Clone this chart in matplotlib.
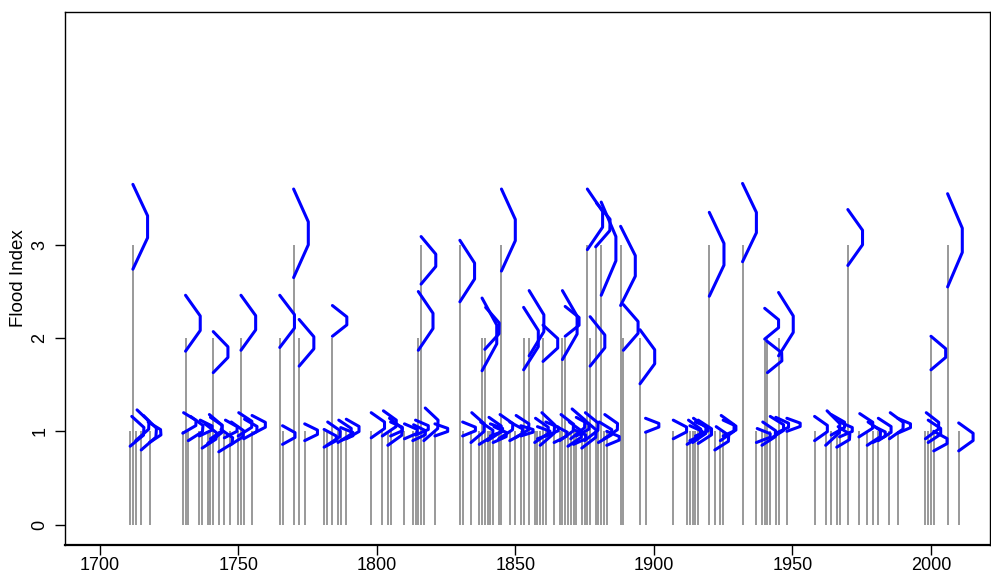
import matplotlib
matplotlib.use('Agg')
import matplotlib.pyplot as plt
import numpy as np

plt.rcParams['font.family'] = ['Liberation Sans Narrow', 'Liberation Sans', 'DejaVu Sans']

#----- flood events (year, flood index)
years = [1711, 1712, 1713, 1715, 1718,
         1730, 1731, 1732, 1736, 1737, 1739, 1740, 1741, 1743, 1745, 1747, 1750, 1751, 1752, 1755,
         1765, 1766, 1770, 1772, 1774,
         1781, 1782, 1784, 1786, 1787, 1789,
         1798, 1802, 1804, 1805, 1810, 1813, 1814, 1815, 1816, 1817, 1821,
         1830, 1831, 1834, 1837, 1838, 1839, 1840, 1841, 1842, 1844, 1845, 1848, 1850, 1852, 1853, 1855,
         1857, 1858, 1859, 1860, 1861, 1864, 1866, 1867, 1868, 1869, 1870, 1871, 1872, 1874, 1875,
         1876, 1877, 1879, 1880, 1881, 1882, 1883, 1888, 1889, 1895, 1897,
         1907, 1912, 1913, 1914, 1915, 1916, 1920, 1922, 1924, 1925, 1932,
         1937, 1939, 1940, 1941, 1942, 1944, 1945, 1948,
         1958, 1962, 1964, 1966, 1967, 1970, 1974, 1977, 1979, 1981, 1985, 1988,
         1998, 1999, 2000, 2001, 2006, 2010]

flood_index = [1, 3, 1, 1, 1,
               1, 2, 1, 1, 1, 1, 1, 2, 1, 1, 1, 1, 2, 1, 1,
               2, 1, 3, 2, 1,
               1, 1, 2, 1, 1, 1,
               1, 1, 1, 1, 1, 1, 1, 2, 3, 1, 1,
               3, 1, 1, 1, 2, 2, 1, 1, 1, 1, 3, 1, 1, 1, 2, 2,
               1, 1, 1, 2, 1, 1, 1, 2, 2, 1, 1, 1, 1, 1, 1,
               3, 2, 3, 1, 3, 1, 1, 3, 2, 2, 1,
               1, 1, 1, 1, 1, 1, 3, 1, 1, 1, 3,
               1, 1, 2, 2, 1, 1, 2, 1,
               1, 1, 1, 1, 1, 3, 1, 1, 1, 1, 1, 1,
               1, 1, 2, 1, 3, 1]

#----- glyph for each event (bottom, top, lean of top point, width in years)
glyph_bot = [0.84, 2.74, 0.90, 0.80, 0.88,
             0.98, 1.86, 0.90, 0.95, 0.82, 0.87, 0.92, 1.63, 0.78, 0.93, 0.85, 0.95, 1.87, 0.92, 0.97,
             1.90, 0.86, 2.65, 1.70, 0.90,
             0.83, 0.85, 2.02, 0.88, 0.90, 0.92,
             0.93, 0.95, 0.85, 0.95, 0.92, 0.90, 0.96, 1.87, 2.58, 0.90, 0.95,
             2.39, 0.95, 0.88, 0.86, 1.65, 1.88, 0.90, 0.95, 0.88, 0.92, 2.72, 0.90, 0.93, 0.95, 1.66, 1.81,
             0.88, 0.92, 0.85, 1.75, 0.95, 0.88, 0.90, 1.77, 2.02, 0.84, 0.92, 0.86, 0.95, 0.82, 0.90,
             2.95, 1.70, 2.98, 0.88, 2.46, 0.92, 0.85, 2.35, 1.87, 1.51, 0.99,
             0.92, 0.86, 0.90, 0.88, 0.95, 0.87, 2.45, 0.80, 0.90, 0.95, 2.82,
             0.88, 0.85, 1.99, 1.63, 0.92, 0.98, 1.81, 1.00,
             0.90, 0.85, 0.96, 0.83, 0.94, 2.78, 0.94, 0.85, 0.88, 0.90, 0.92, 0.98,
             0.92, 0.88, 1.66, 0.79, 2.55, 0.79]

glyph_top = [1.16, 3.65, 1.23, 1.17, 1.10,
             1.20, 2.46, 1.16, 1.12, 1.08, 1.18, 1.15, 2.07, 1.02, 1.12, 1.10, 1.20, 2.46, 1.13, 1.17,
             2.46, 1.06, 3.60, 2.20, 1.08,
             1.02, 1.10, 2.35, 1.12, 1.04, 1.13,
             1.20, 1.22, 1.14, 1.10, 1.08, 1.07, 1.12, 2.50, 3.09, 1.25, 1.08,
             3.05, 1.10, 1.20, 1.10, 2.43, 2.33, 1.15, 1.08, 1.05, 1.18, 3.60, 1.10, 1.17, 1.06, 2.33, 2.51,
             1.14, 1.05, 1.20, 2.14, 1.10, 1.06, 1.18, 2.51, 2.34, 1.10, 1.24, 1.02, 1.15, 1.13, 1.20,
             3.60, 2.23, 3.45, 1.10, 3.46, 1.18, 1.00, 3.20, 2.36, 2.09, 1.14,
             1.12, 1.12, 1.06, 1.14, 1.10, 1.12, 3.35, 1.05, 1.17, 1.12, 3.66,
             1.03, 1.10, 2.32, 1.97, 1.16, 1.15, 2.49, 1.14,
             1.16, 1.22, 1.18, 1.05, 1.10, 3.38, 1.19, 1.10, 1.06, 1.14, 1.20, 1.14,
             1.20, 1.12, 2.02, 1.00, 3.55, 1.09]

glyph_lean = [0.6, 0.0, 0.5, 0.8, -0.5,
              0.3, 0.0, 0.8, 0.3, 1.0, 0.6, 0.0, 0.0, 0.8, 0.4, 0.5, 0.2, 0.0, 0.3, 0.0,
              0.0, 0.0, 0.0, 0.0, 0.0,
              0.0, 0.3, 0.0, 0.3, 0.0, 0.0,
              0.0, 0.4, 0.6, 0.0, 0.0, 0.3, 0.0, 0.0, 0.0, 0.5, 0.0,
              0.0, 0.0, 0.3, 0.5, 0.0, 0.3, 0.5, 0.0, 0.3, 0.5, 0.0, 0.0, 0.3, 0.0, 0.0, 0.0,
              0.3, 0.0, 0.6, 0.0, 0.0, 0.3, 0.5, 0.0, 0.0, 0.5, 0.5, 0.0, 0.0, 0.6, 0.3,
              0.0, 0.0, 0.3, 0.3, 0.0, 0.3, 0.0, 0.0, 0.0, 0.0, 0.0,
              0.0, 0.5, 0.0, 0.3, 0.0, 0.0, 0.0, 0.5, 0.3, 0.0, 0.0,
              0.3, 0.3, 0.0, -0.3, 0.0, 0.0, 0.0, 0.0,
              0.0, 0.5, 0.0, 0.5, 0.0, 0.0, 0.3, 0.3, 0.0, 0.0, 0.3, 0.0,
              0.3, 0.0, 0.0, 0.0, 0.0, 0.0]

glyph_w = [4.6, 5.3, 4.5, 5.0, 4.3,
           4.6, 5.3, 4.8, 4.4, 4.6, 4.8, 4.2, 5.3, 4.5, 4.4, 4.6, 4.8, 5.3, 4.6, 4.8,
           5.3, 4.5, 5.3, 5.3, 4.6,
           4.4, 4.6, 5.2, 4.6, 4.4, 4.6,
           4.8, 4.8, 4.8, 4.2, 4.6, 4.4, 4.6, 5.3, 5.3, 4.8, 4.6,
           5.3, 4.6, 4.6, 4.6, 5.3, 5.0, 4.6, 4.4, 4.6, 4.8, 5.0, 4.6, 4.7, 4.4, 5.3, 5.3,
           4.7, 4.5, 4.8, 5.3, 4.5, 4.4, 4.7, 5.3, 5.0, 4.6, 4.8, 4.4, 4.6, 4.8, 4.7,
           5.5, 5.3, 5.0, 4.6, 5.3, 4.7, 4.5, 5.3, 5.3, 5.3, 4.8,
           4.8, 4.6, 4.4, 4.6, 4.6, 4.8, 5.3, 4.7, 4.8, 4.6, 5.0,
           4.8, 4.7, 5.0, 5.3, 4.8, 4.6, 5.3, 4.8,
           4.6, 4.8, 4.8, 4.4, 4.6, 5.3, 4.8, 4.6, 4.5, 4.6, 4.8, 4.6,
           4.6, 4.5, 5.3, 4.8, 5.3, 5.2]

xticks = [1700, 1750, 1800, 1850, 1900, 1950, 2000]
yticks = [0, 1, 2, 3]

#----- plot
fig = plt.figure(figsize=(9.91, 5.76), dpi=100)
ax = fig.add_axes([65/991, 31/576, 925/991, 533/576])

# vertical lines from 0 to the flood index
ax.vlines(years, 0, flood_index, color='#888888', lw=1.2, zorder=2)

# half hexagon glyph on top of each line
for k in range(len(years)):
    xb, yb = years[k], glyph_bot[k]
    xt, yt = years[k] + glyph_lean[k], glyph_top[k]
    w = glyph_w[k]
    xu = xb + 0.63*(xt - xb) + w
    yu = yb + 0.63*(yt - yb)
    xl = xb + 0.37*(xt - xb) + w
    yl = yb + 0.37*(yt - yb)
    ax.plot([xt, xu, xl, xb], [yt, yu, yl, yb], color='#0000ff', lw=2.2,
            solid_joinstyle='round', solid_capstyle='round', zorder=3)

ax.set_xlim(1687.5, 2021.3)
ax.set_ylim(-0.22, 5.50)
ax.set_xticks(xticks)
ax.set_yticks(yticks)
ax.set_yticklabels([str(v) for v in yticks], rotation=90, va='center')
ax.tick_params(axis='both', direction='out', length=7, width=1, labelsize=13, color='black')
ax.tick_params(axis='x', pad=2)
ax.tick_params(axis='y', pad=5)
ax.set_ylabel('Flood Index', fontsize=13.5, labelpad=3)

for s in ['left', 'right', 'top']:
    ax.spines[s].set_linewidth(1.0)
ax.spines['bottom'].set_linewidth(1.6)

plt.savefig('out.png', dpi=100)
